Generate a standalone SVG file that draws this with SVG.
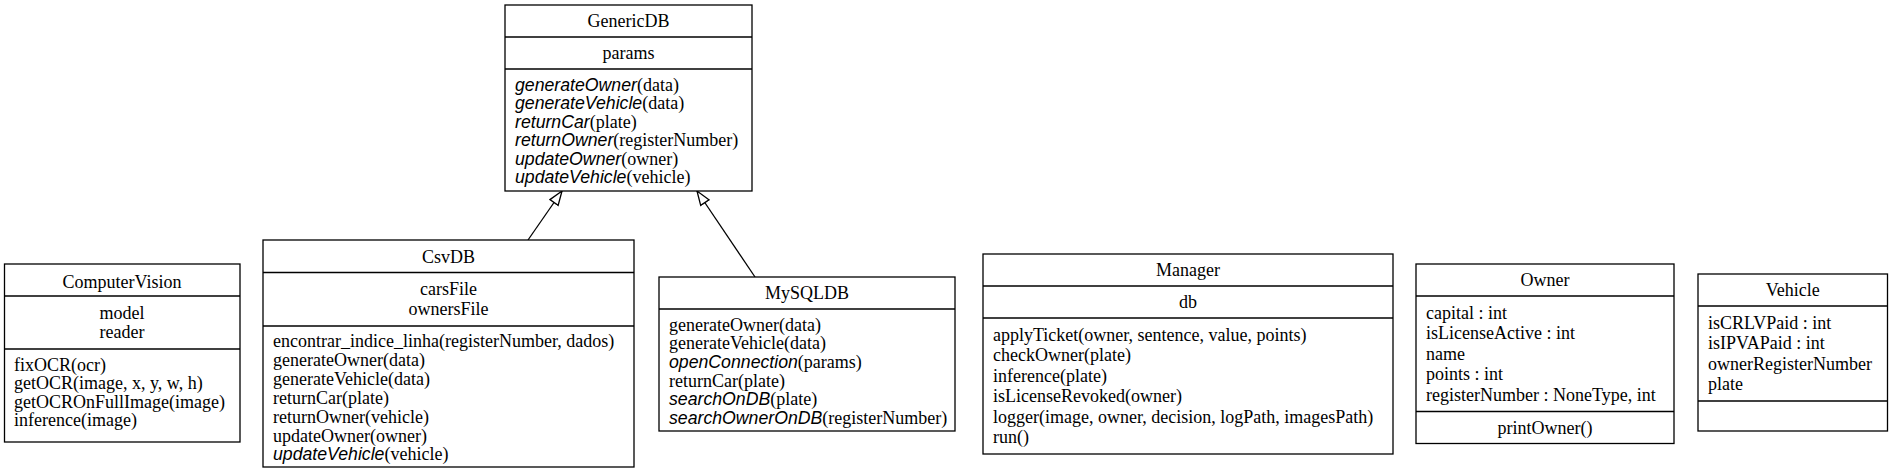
<svg xmlns="http://www.w3.org/2000/svg" width="1891" height="473" viewBox="0 0 1891 473">
<style>
.box{fill:#fff;stroke:#000;stroke-width:1.3}
.dv{stroke:#000;stroke-width:1.3}
text{font-family:"Liberation Serif","Times New Roman",serif;font-size:18px;fill:#000}
.c{text-anchor:middle}
.i{font-family:"Liberation Sans",Arial,sans-serif;font-style:italic;font-size:17.7px}
.edge{fill:none;stroke:#000;stroke-width:1.3}
</style>
<defs>
<marker id="inh" markerUnits="userSpaceOnUse" markerWidth="16" markerHeight="12" refX="15" refY="6" orient="auto">
<path d="M1,1 L15,6 L1,11 z" fill="#fff" stroke="#000" stroke-width="1.3"/>
</marker>
</defs>
<rect width="1891" height="473" fill="#fff"/>
<g id="connectors">
<path class="edge" d="M528,240 L562,191" marker-end="url(#inh)"/>
<path class="edge" d="M755,277 L697,191" marker-end="url(#inh)"/>
</g>
<g id="GenericDB">
<rect class="box" x="505" y="5" width="247" height="186"/>
<line class="dv" x1="505" y1="37" x2="752" y2="37"/>
<line class="dv" x1="505" y1="69" x2="752" y2="69"/>
<text class="c" x="628.5" y="27">GenericDB</text>
<text class="c" x="628.5" y="59">params</text>
<text x="515" y="90.5"><tspan class="i">generateOwner</tspan>(data)</text>
<text x="515" y="109"><tspan class="i">generateVehicle</tspan>(data)</text>
<text x="515" y="127.5"><tspan class="i">returnCar</tspan>(plate)</text>
<text x="515" y="146"><tspan class="i">returnOwner</tspan>(registerNumber)</text>
<text x="515" y="164.5"><tspan class="i">updateOwner</tspan>(owner)</text>
<text x="515" y="183"><tspan class="i">updateVehicle</tspan>(vehicle)</text>
</g>
<g id="ComputerVision">
<rect class="box" x="4.5" y="264" width="235.5" height="178"/>
<line class="dv" x1="4.5" y1="296" x2="240" y2="296"/>
<line class="dv" x1="4.5" y1="349" x2="240" y2="349"/>
<text class="c" x="122" y="287.5">ComputerVision</text>
<text class="c" x="122" y="319">model</text>
<text class="c" x="122" y="338">reader</text>
<text x="14" y="370.5">fixOCR(ocr)</text>
<text x="14" y="389">getOCR(image, x, y, w, h)</text>
<text x="14" y="407.5">getOCROnFullImage(image)</text>
<text x="14" y="426">inference(image)</text>
</g>
<g id="CsvDB">
<rect class="box" x="263" y="240" width="371" height="227"/>
<line class="dv" x1="263" y1="272.5" x2="634" y2="272.5"/>
<line class="dv" x1="263" y1="326" x2="634" y2="326"/>
<text class="c" x="448.5" y="262.5">CsvDB</text>
<text class="c" x="448.5" y="295">carsFile</text>
<text class="c" x="448.5" y="315">ownersFile</text>
<text x="273" y="347">encontrar_indice_linha(registerNumber, dados)</text>
<text x="273" y="365.9">generateOwner(data)</text>
<text x="273" y="384.8">generateVehicle(data)</text>
<text x="273" y="403.7">returnCar(plate)</text>
<text x="273" y="422.6">returnOwner(vehicle)</text>
<text x="273" y="441.5">updateOwner(owner)</text>
<text x="273" y="460.4"><tspan class="i">updateVehicle</tspan>(vehicle)</text>
</g>
<g id="MySQLDB">
<rect class="box" x="659" y="277" width="296" height="154"/>
<line class="dv" x1="659" y1="309" x2="955" y2="309"/>
<text class="c" x="807" y="299">MySQLDB</text>
<text x="669" y="330.5">generateOwner(data)</text>
<text x="669" y="349.2">generateVehicle(data)</text>
<text x="669" y="367.9"><tspan class="i">openConnection</tspan>(params)</text>
<text x="669" y="386.6">returnCar(plate)</text>
<text x="669" y="405.3"><tspan class="i">searchOnDB</tspan>(plate)</text>
<text x="669" y="424"><tspan class="i">searchOwnerOnDB</tspan>(registerNumber)</text>
</g>
<g id="Manager">
<rect class="box" x="983" y="254" width="410" height="200"/>
<line class="dv" x1="983" y1="286" x2="1393" y2="286"/>
<line class="dv" x1="983" y1="318" x2="1393" y2="318"/>
<text class="c" x="1188" y="276">Manager</text>
<text class="c" x="1188" y="308">db</text>
<text x="993" y="341">applyTicket(owner, sentence, value, points)</text>
<text x="993" y="361.4">checkOwner(plate)</text>
<text x="993" y="381.8">inference(plate)</text>
<text x="993" y="402.2">isLicenseRevoked(owner)</text>
<text x="993" y="422.6">logger(image, owner, decision, logPath, imagesPath)</text>
<text x="993" y="443">run()</text>
</g>
<g id="Owner">
<rect class="box" x="1416" y="264" width="258" height="179.5"/>
<line class="dv" x1="1416" y1="296" x2="1674" y2="296"/>
<line class="dv" x1="1416" y1="411.5" x2="1674" y2="411.5"/>
<text class="c" x="1545" y="286">Owner</text>
<text x="1426" y="319">capital : int</text>
<text x="1426" y="339.4">isLicenseActive : int</text>
<text x="1426" y="359.8">name</text>
<text x="1426" y="380.2">points : int</text>
<text x="1426" y="400.6">registerNumber : NoneType, int</text>
<text class="c" x="1545" y="433.5">printOwner()</text>
</g>
<g id="Vehicle">
<rect class="box" x="1698" y="274" width="189.5" height="157"/>
<line class="dv" x1="1698" y1="306" x2="1887.5" y2="306"/>
<line class="dv" x1="1698" y1="401" x2="1887.5" y2="401"/>
<text class="c" x="1792.75" y="296">Vehicle</text>
<text x="1708" y="329">isCRLVPaid : int</text>
<text x="1708" y="349.4">isIPVAPaid : int</text>
<text x="1708" y="369.8">ownerRegisterNumber</text>
<text x="1708" y="390.2">plate</text>
</g>
</svg>
